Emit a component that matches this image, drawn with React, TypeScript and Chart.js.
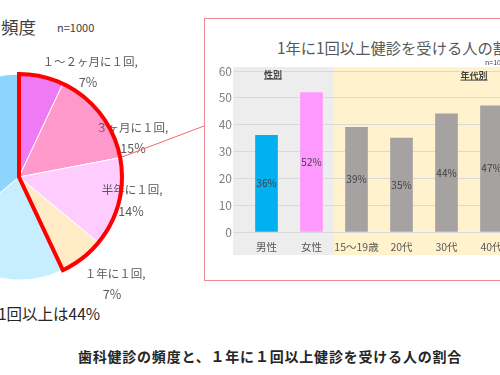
import React, { useEffect, useRef } from "react";
import { Chart, registerables } from "chart.js";

Chart.register(...registerables);

// ---------- data ----------
const pieLabels = ["１～２ヶ月に１回", "３ヶ月に１回", "半年に１回", "１年に１回", "２～３年に１回", "受けていない"];
const pieValues = [7, 15, 14, 7, 21, 36];
const pieColors = ["#EF7BF4", "#FF99CC", "#FFCCFF", "#FFEBC6", "#C6EEFF", "#8ED5FE"];
const highlightCount = 4;

const barCategories = ["男性", "女性", "15～19歳", "20代", "30代", "40代"];
const barValues = [36, 52, 39, 35, 44, 47];
const barColors = ["#00B0F0", "#FF99FF", "#A6A2A2", "#A6A2A2", "#A6A2A2", "#A6A2A2"];
const yTickValues = [0, 10, 20, 30, 40, 50, 60];

const FONT = '"Noto Sans CJK JP", "Noto Sans", sans-serif';

// ---------- layout ----------
const PIE_LEFT = -200;
const PIE_TOP = 0;
const PIE_W = 440;
const PIE_H = 375;
const pieLabelPos = [
  [90, 62, 88, 82],
  [132, 128, 133, 148],
  [132, 190, 131, 211],
  [115, 274, 112, 294],
];
const BAR_LEFT = 205;
const BAR_TOP = 60;
const BAR_W = 309;
const BAR_H = 202;

const pieDecor = {
  id: "pieDecor",
  afterDatasetsDraw(chart: any) {
    const ctx = chart.ctx;
    ctx.save();
    ctx.fillStyle = "#595959";
    ctx.textAlign = "center";
    ctx.textBaseline = "middle";
    for (let i = 0; i < highlightCount; i++) {
      const p = pieLabelPos[i];
      ctx.font = `11.5px ${FONT}`;
      ctx.fillText(pieLabels[i] + ",", p[0] - PIE_LEFT, p[1] - PIE_TOP);
      ctx.font = `12.5px ${FONT}`;
      ctx.fillText(pieValues[i] + "%", p[2] - PIE_LEFT, p[3] - PIE_TOP);
    }
    ctx.restore();
  },
  afterDraw(chart: any) {
    const ctx = chart.ctx;
    const meta = chart.getDatasetMeta(0);
    const first = meta.data[0];
    const last = meta.data[highlightCount - 1];
    const x = first.x;
    const y = first.y;
    const r = first.outerRadius;
    const a0 = first.startAngle;
    const a1 = last.endAngle;
    ctx.save();
    // connector line
    const ac = meta.data[1].endAngle;
    ctx.strokeStyle = "#F06A6A";
    ctx.lineWidth = 1;
    ctx.beginPath();
    ctx.moveTo(x + r * Math.cos(ac), y + r * Math.sin(ac));
    ctx.lineTo(204 - PIE_LEFT, 126 - PIE_TOP);
    ctx.stroke();
    // highlight outline
    ctx.strokeStyle = "#FF0000";
    ctx.lineWidth = 4;
    ctx.lineJoin = "miter";
    ctx.beginPath();
    ctx.moveTo(x, y);
    ctx.lineTo(x + r * Math.cos(a0), y + r * Math.sin(a0));
    ctx.arc(x, y, r, a0, a1);
    ctx.closePath();
    ctx.stroke();
    ctx.restore();
  },
};

const barDecor = {
  id: "barDecor",
  beforeDraw(chart: any) {
    const ctx = chart.ctx;
    const xs = chart.scales.x;
    const ys = chart.scales.y;
    const area = chart.chartArea;
    const top = ys.getPixelForValue(60) - 4;
    const bottom = area.bottom + 23;
    const split = (xs.getPixelForTick(1) + xs.getPixelForTick(2)) / 2;
    ctx.save();
    ctx.fillStyle = "#EDEDED";
    ctx.fillRect(area.left - 11, top, split - (area.left - 11), bottom - top);
    ctx.fillStyle = "#FFF2CC";
    ctx.fillRect(split, top, chart.width - split, bottom - top);
    ctx.restore();
  },
  afterDatasetsDraw(chart: any) {
    const ctx = chart.ctx;
    const meta = chart.getDatasetMeta(0);
    ctx.save();
    ctx.fillStyle = "#404040";
    ctx.font = `10px ${FONT}`;
    ctx.textAlign = "center";
    ctx.textBaseline = "middle";
    meta.data.forEach((bar: any, i: number) => {
      ctx.fillText(barValues[i] + "%", bar.x, (bar.y + bar.base) / 2);
    });
    ctx.restore();
  },
};

function PieChart() {
  const ref = useRef<HTMLCanvasElement>(null);
  useEffect(() => {
    const chart = new Chart(ref.current!, {
      type: "pie",
      data: {
        labels: pieLabels,
        datasets: [
          {
            data: pieValues,
            backgroundColor: pieColors,
            borderColor: "#FFFFFF",
            borderWidth: 1,
          },
        ],
      },
      options: {
        animation: false,
        responsive: false,
        layout: { padding: { left: 115.5, right: 117.5, top: 73.5, bottom: 94.5 } },
        plugins: { legend: { display: false }, tooltip: { enabled: false } },
      },
      plugins: [pieDecor],
    } as any);
    return () => chart.destroy();
  }, []);
  return (
    <canvas
      ref={ref}
      width={PIE_W}
      height={PIE_H}
      style={{ position: "absolute", left: PIE_LEFT, top: PIE_TOP, width: PIE_W, height: PIE_H }}
    />
  );
}

function BarChart() {
  const ref = useRef<HTMLCanvasElement>(null);
  useEffect(() => {
    const chart = new Chart(ref.current!, {
      type: "bar",
      data: {
        labels: barCategories,
        datasets: [{ data: barValues, backgroundColor: barColors, barThickness: 22 }],
      },
      options: {
        animation: false,
        responsive: false,
        layout: { padding: { top: 11, left: 0, right: 0, bottom: 0 } },
        plugins: { legend: { display: false }, tooltip: { enabled: false } },
        scales: {
          x: {
            grid: { display: false, drawTicks: false },
            border: { display: false },
            ticks: {
              font: { family: FONT, size: 10.5 },
              color: "#595959",
              padding: 9,
              maxRotation: 0,
              autoSkip: false,
            },
            afterFit: (s: any) => {
              s.height = 30;
            },
          },
          y: {
            min: 0,
            max: 60,
            afterBuildTicks: (s: any) => {
              s.ticks = yTickValues.map((v) => ({ value: v }));
            },
            ticks: { font: { family: FONT, size: 12 }, color: "#7F7F7F", padding: 1.5 },
            grid: { color: "#D9D9D9", tickLength: 10.5, drawTicks: true },
            border: { display: false },
            afterFit: (s: any) => {
              s.width = 39;
            },
          },
        },
      },
      plugins: [barDecor],
    } as any);
    return () => chart.destroy();
  }, []);
  return (
    <canvas
      ref={ref}
      width={BAR_W}
      height={BAR_H}
      style={{ position: "absolute", left: BAR_LEFT, top: BAR_TOP, width: BAR_W, height: BAR_H }}
    />
  );
}

function T(props: { x: number; y: number; size: number; color?: string; weight?: any; align?: "left" | "center" | "right"; spacing?: number; underline?: boolean; children: any }) {
  const { x, y, size, color = "#404040", weight = 400, align = "left", spacing = 0, underline = false } = props;
  const tx = align === "left" ? "0" : align === "center" ? "-50%" : "-100%";
  return (
    <div
      style={{
        position: "absolute",
        left: x,
        top: y,
        transform: `translate(${tx}, -50%)`,
        fontFamily: FONT,
        fontSize: size,
        lineHeight: 1.2,
        color,
        fontWeight: weight,
        whiteSpace: "nowrap",
        letterSpacing: spacing,
        textDecoration: underline ? "underline" : "none",
      }}
    >
      {props.children}
    </div>
  );
}

export default function App() {
  return (
    <div
      style={{
        position: "fixed",
        left: 0,
        top: 0,
        width: 500,
        height: 375,
        overflow: "hidden",
        background: "#FFFFFF",
      }}
    >
      <div
        style={{
          position: "absolute",
          left: 204,
          top: 18,
          width: 400,
          height: 261,
          border: "1px solid #EE8A96",
          background: "#FFFFFF",
        }}
      />
      <BarChart />
      <T x={277} y={47} size={15.3} color="#595959">1年に1回以上健診を受ける人の割合</T>
      <T x={485} y={62} size={7} color="#404040">n=1000</T>
      <T x={273} y={75} size={9} weight={700} align="center" underline>性別</T>
      <T x={474} y={76} size={9} weight={700} align="center" underline>年代別</T>
      <T x={36} y={26} size={17.5} align="right">歯科健診の頻度</T>
      <T x={57} y={28} size={11} color="#404040">n=1000</T>
      <T x={-2} y={313} size={15.5} color="#262626">1回以上は44%</T>
      <T x={270} y={356} size={14} weight={700} color="#262626" align="center" spacing={0.8}>
        歯科健診の頻度と、１年に１回以上健診を受ける人の割合
      </T>
      <PieChart />
    </div>
  );
}
